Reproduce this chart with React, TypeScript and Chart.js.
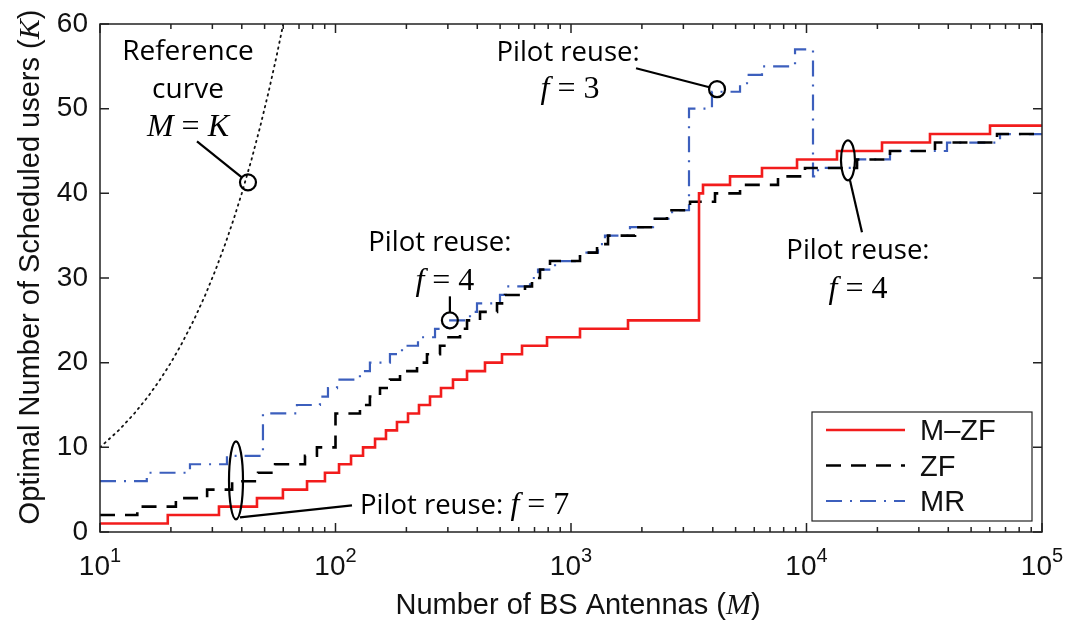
import React, { useEffect, useRef } from "react";
import { Chart, registerables } from "chart.js";

Chart.register(...registerables);

// ---------- data ----------
const xTickValues = [10, 100, 1000, 10000, 100000];
const xTickExponents = ["1", "2", "3", "4", "5"];
const yTickValues = [0, 10, 20, 30, 40, 50, 60];
const seriesNames = ["M\u2013ZF", "ZF", "MR"];

// step series: antenna count where each level starts, and the level (K)
const mzfM = [10, 19.4, 32, 46.4, 59.8, 75.7, 90.2, 103.5, 116.4, 130.9, 147.2, 163.8, 182.4, 203.2, 226.2, 251.9, 280.5, 315.4, 361.8, 431.3, 509.3, 619.4, 791, 1092, 1746, 3496, 3635, 4734, 6471, 9115, 13474, 20923, 33446, 60150];
const mzfK = [1, 2, 3, 4, 5, 6, 7, 8, 9, 10, 11, 12, 13, 14, 15, 16, 17, 18, 19, 20, 21, 22, 23, 24, 25, 40, 41, 42, 43, 44, 45, 46, 47, 48];

const zfM = [10, 14.4, 21.0, 28.5, 36.4, 46.9, 55.4, 74.2, 83.4, 100, 127, 140, 154.5, 170.3, 187.9, 221.9, 244.6, 277.8, 297.6, 337.9, 361.8, 410.8, 485.1, 524.4, 637.8, 683, 738.6, 814.5, 1092, 1290, 1436, 1870, 2273, 2556, 3202, 4088, 5221, 7568, 9854, 16386, 22622, 35125, 64420];
const zfK = [2, 3, 4, 5, 6, 7, 8, 9, 10, 14, 15, 16, 17, 18, 19, 20, 21, 22, 23, 24, 25, 26, 27, 28, 29, 30, 31, 32, 33, 34, 35, 36, 37, 38, 39, 40, 41, 42, 43, 44, 45, 46, 47];

const mrM = [10, 15.8, 24.1, 34.6, 49.2, 68.6, 85.9, 92.9, 101.5, 127, 140, 170.3, 191.6, 224, 264.6, 297.6, 372.5, 398.9, 499.4, 535, 669.8, 724.3, 855.4, 1092, 1302, 1394, 1780, 2230, 2686, 3170, 3968, 5221, 5589, 6471, 8939, 10656, 11191, 16386, 22622, 39504, 66345];
const mrK = [6, 7, 8, 9, 14, 15, 16, 17, 18, 19, 20, 21, 22, 23, 24, 25, 26, 27, 28, 29, 30, 31, 32, 33, 34, 35, 36, 37, 38, 50, 52, 53, 54, 55, 57, 42, 43, 44, 45, 46, 47];

const xEnd = 100000;

// reference curve M = K
const refM = [10, 12, 14, 16, 18, 20, 22, 25, 28, 31, 34, 37, 40, 44, 48, 52, 56, 60, 62];
const refK = [10, 12, 14, 16, 18, 20, 22, 25, 28, 31, 34, 37, 40, 44, 48, 52, 56, 60, 62];

// annotation anchors (M, K)
const refMark = [42.5, 41.3];
const f4Mark = [306, 25];
const f3Mark = [4170, 52.3];
const f4RightMark = [15000, 43.9];
const f7Mark = [37.8, 6.1];

const RED = "#f21c1c";
const BLACK = "#000000";
const BLUE = "#3c5fbd";

const SANS = '"Liberation Sans", Arial, sans-serif';
const SERIF = '"Liberation Serif", "DejaVu Serif", serif';
const ANNOT = '"Open Sans", sans-serif';

type Run = { text: string; font: string; dy?: number };

function drawRuns(ctx: CanvasRenderingContext2D, runs: Run[], x: number, y: number, align: "left" | "center") {
  let total = 0;
  for (const r of runs) {
    ctx.font = r.font;
    total += ctx.measureText(r.text).width;
  }
  let cx = align === "center" ? x - total / 2 : x;
  ctx.textAlign = "left";
  ctx.textBaseline = "alphabetic";
  for (const r of runs) {
    ctx.font = r.font;
    ctx.fillText(r.text, cx, y + (r.dy || 0));
    cx += ctx.measureText(r.text).width;
  }
}

function mathRuns(v: string): Run[] {
  return [
    { text: "f", font: `italic 32px ${SERIF}` },
    { text: " = " + v, font: `32px ${SERIF}` },
  ];
}

const overlay = {
  id: "overlay",
  afterDraw(chart: any) {
    const ctx: CanvasRenderingContext2D = chart.ctx;
    const { left, right, top, bottom } = chart.chartArea;
    const xs = chart.scales.x;
    const ys = chart.scales.y;
    const px = (m: number) => xs.getPixelForValue(m);
    const py = (k: number) => ys.getPixelForValue(k);

    ctx.save();
    // frame
    ctx.strokeStyle = "#222";
    ctx.lineWidth = 1.5;
    ctx.strokeRect(left, top, right - left, bottom - top);

    // ticks
    ctx.beginPath();
    for (const v of yTickValues) {
      const y = py(v);
      ctx.moveTo(left, y); ctx.lineTo(left + 9, y);
      ctx.moveTo(right, y); ctx.lineTo(right - 9, y);
    }
    for (let i = 0; i < xTickValues.length; i++) {
      const d = xTickValues[i];
      const x = px(d);
      ctx.moveTo(x, bottom); ctx.lineTo(x, bottom - 9);
      ctx.moveTo(x, top); ctx.lineTo(x, top + 9);
      if (i < xTickValues.length - 1) {
        for (let k = 2; k <= 9; k++) {
          const xm = px(d * k);
          ctx.moveTo(xm, bottom); ctx.lineTo(xm, bottom - 5);
          ctx.moveTo(xm, top); ctx.lineTo(xm, top + 5);
        }
      }
    }
    ctx.stroke();

    // x tick labels 10^n
    ctx.fillStyle = "#111";
    for (let i = 0; i < xTickValues.length; i++) {
      const x = px(xTickValues[i]);
      drawRuns(ctx, [
        { text: "10", font: `28px ${SANS}` },
        { text: xTickExponents[i], font: `20px ${SANS}`, dy: -13 },
      ], x, bottom + 43, "center");
    }

    // axis titles
    drawRuns(ctx, [
      { text: "Number of BS Antennas (", font: `29px ${SANS}` },
      { text: "M", font: `italic 30px ${SERIF}` },
      { text: ")", font: `29px ${SANS}` },
    ], (left + right) / 2 + 7, 614, "center");
    ctx.save();
    ctx.translate(39, (top + bottom) / 2 - 11);
    ctx.rotate(-Math.PI / 2);
    drawRuns(ctx, [
      { text: "Optimal Number of Scheduled users (", font: `29px ${SANS}` },
      { text: "K", font: `italic 30px ${SERIF}` },
      { text: ")", font: `29px ${SANS}` },
    ], 0, 0, "center");
    ctx.restore();

    // annotations
    ctx.strokeStyle = "#000";
    ctx.fillStyle = "#000";
    ctx.lineWidth = 2.2;
    const circle = (x: number, y: number, r: number) => {
      ctx.beginPath(); ctx.arc(x, y, r, 0, Math.PI * 2); ctx.stroke();
    };
    const seg = (x1: number, y1: number, x2: number, y2: number) => {
      ctx.beginPath(); ctx.moveTo(x1, y1); ctx.lineTo(x2, y2); ctx.stroke();
    };
    const ell = (x: number, y: number, rx: number, ry: number) => {
      ctx.beginPath(); ctx.ellipse(x, y, rx, ry, 0, 0, Math.PI * 2); ctx.stroke();
    };
    const AF = `27.5px ${ANNOT}`;
    const AF2 = `28px ${ANNOT}`;

    // reference curve
    let ax = px(refMark[0]), ay = py(refMark[1]);
    circle(ax, ay, 8);
    seg(ax - 51, ay - 41, ax - 6.2, ay - 5);
    drawRuns(ctx, [{ text: "Reference", font: AF2 }], ax - 60, ay - 122, "center");
    drawRuns(ctx, [{ text: "curve", font: AF2 }], ax - 60, ay - 84, "center");
    drawRuns(ctx, [
      { text: "M", font: `italic 32px ${SERIF}` },
      { text: " = ", font: `32px ${SERIF}` },
      { text: "K", font: `italic 32px ${SERIF}` },
    ], ax - 60, ay - 46, "center");

    // f = 4 (middle)
    ax = px(f4Mark[0]); ay = py(f4Mark[1]);
    circle(ax, ay, 8);
    seg(ax, ay - 24, ax, ay - 8);
    drawRuns(ctx, [{ text: "Pilot reuse:", font: AF }], ax - 10, ay - 69, "center");
    drawRuns(ctx, mathRuns("4"), ax - 5, ay - 30, "center");

    // f = 3
    ax = px(f3Mark[0]); ay = py(f3Mark[1]);
    circle(ax, ay, 8);
    seg(ax - 81, ay - 21, ax - 7.7, ay - 2);
    drawRuns(ctx, [{ text: "Pilot reuse:", font: AF }], ax - 149, ay - 28, "center");
    drawRuns(ctx, mathRuns("3"), ax - 147, ay + 9, "center");

    // f = 4 (right)
    ax = px(f4RightMark[0]); ay = py(f4RightMark[1]);
    ell(ax, ay, 7, 20);
    seg(ax + 2, ay + 20, ax + 14, ay + 72);
    drawRuns(ctx, [{ text: "Pilot reuse:", font: AF }], ax + 10, ay + 99, "center");
    drawRuns(ctx, mathRuns("4"), ax + 10, ay + 138, "center");

    // f = 7
    ax = px(f7Mark[0]); ay = py(f7Mark[1]);
    ell(ax, ay, 7, 39);
    seg(ax + 4, ay + 37, ax + 116, ay + 25);
    drawRuns(ctx, [{ text: "Pilot reuse: ", font: AF }, ...mathRuns("7")], ax + 124, ay + 34, "left");

    // legend
    const bR = right - 10, bB = bottom - 11, bW = 220, bH = 109;
    const bL = bR - bW, bT = bB - bH;
    ctx.fillStyle = "#fff";
    ctx.fillRect(bL, bT, bW, bH);
    ctx.strokeStyle = "#222";
    ctx.lineWidth = 1.2;
    ctx.strokeRect(bL, bT, bW, bH);
    const styles = [
      { c: RED, w: 2.6, d: [] as number[] },
      { c: BLACK, w: 2.6, d: [15, 10] },
      { c: BLUE, w: 2.2, d: [16, 8, 2, 8] },
    ];
    for (let i = 0; i < 3; i++) {
      const y = bT + 18 + i * 35.5;
      ctx.strokeStyle = styles[i].c;
      ctx.lineWidth = styles[i].w;
      ctx.setLineDash(styles[i].d);
      seg(bL + 14, y, bL + 93, y);
      ctx.setLineDash([]);
      ctx.fillStyle = "#111";
      drawRuns(ctx, [{ text: seriesNames[i], font: `29px ${SANS}` }], bL + 108, y + 10, "left");
    }
    ctx.restore();
  },
};

function steps(ms: number[], ks: number[]) {
  const pts = ms.map((m, i) => ({ x: m, y: ks[i] }));
  pts.push({ x: xEnd, y: ks[ks.length - 1] });
  return pts;
}

export default function App() {
  const ref = useRef<HTMLCanvasElement>(null);
  useEffect(() => {
    const canvas = ref.current!;
    const chart = new Chart(canvas, {
      type: "line",
      data: {
        datasets: [
          { label: seriesNames[0], data: steps(mzfM, mzfK), borderColor: RED, borderWidth: 2.6, stepped: "before", pointRadius: 0, fill: false },
          { label: seriesNames[1], data: steps(zfM, zfK), borderColor: BLACK, borderWidth: 2.6, borderDash: [15, 10], stepped: "before", pointRadius: 0, fill: false },
          { label: seriesNames[2], data: steps(mrM, mrK), borderColor: BLUE, borderWidth: 2.2, borderDash: [16, 8, 2, 8], stepped: "before", pointRadius: 0, fill: false },
          { label: "Reference", data: refM.map((m, i) => ({ x: m, y: refK[i] })), borderColor: "#111", borderWidth: 1.8, borderDash: [1.5, 4.5], borderCapStyle: "round", pointRadius: 0, fill: false },
        ] as any,
      },
      options: {
        responsive: false,
        animation: false,
        devicePixelRatio: 1,
        layout: { padding: { left: 0, right: 29, top: 24, bottom: 0 } },
        plugins: { legend: { display: false }, tooltip: { enabled: false } },
        scales: {
          x: {
            type: "logarithmic",
            min: 10,
            max: 100000,
            grid: { display: false },
            border: { display: false },
            ticks: { display: false },
            afterBuildTicks: (s: any) => { s.ticks = xTickValues.map((v) => ({ value: v })); },
            afterFit: (s: any) => { s.height = 89; },
          },
          y: {
            type: "linear",
            min: 0,
            max: 60,
            grid: { display: false },
            border: { display: false },
            afterBuildTicks: (s: any) => { s.ticks = yTickValues.map((v) => ({ value: v })); },
            ticks: { padding: 4, color: "#111", font: { family: SANS, size: 28 } },
            afterFit: (s: any) => { s.width = 100; },
          },
        },
      } as any,
      plugins: [overlay],
    });
    return () => chart.destroy();
  }, []);
  return (
    <div style={{ position: "fixed", left: 0, top: 0, width: 1071, height: 621, background: "#fff" }}>
      <canvas ref={ref} width={1071} height={621} style={{ width: 1071, height: 621, display: "block" }} />
    </div>
  );
}
